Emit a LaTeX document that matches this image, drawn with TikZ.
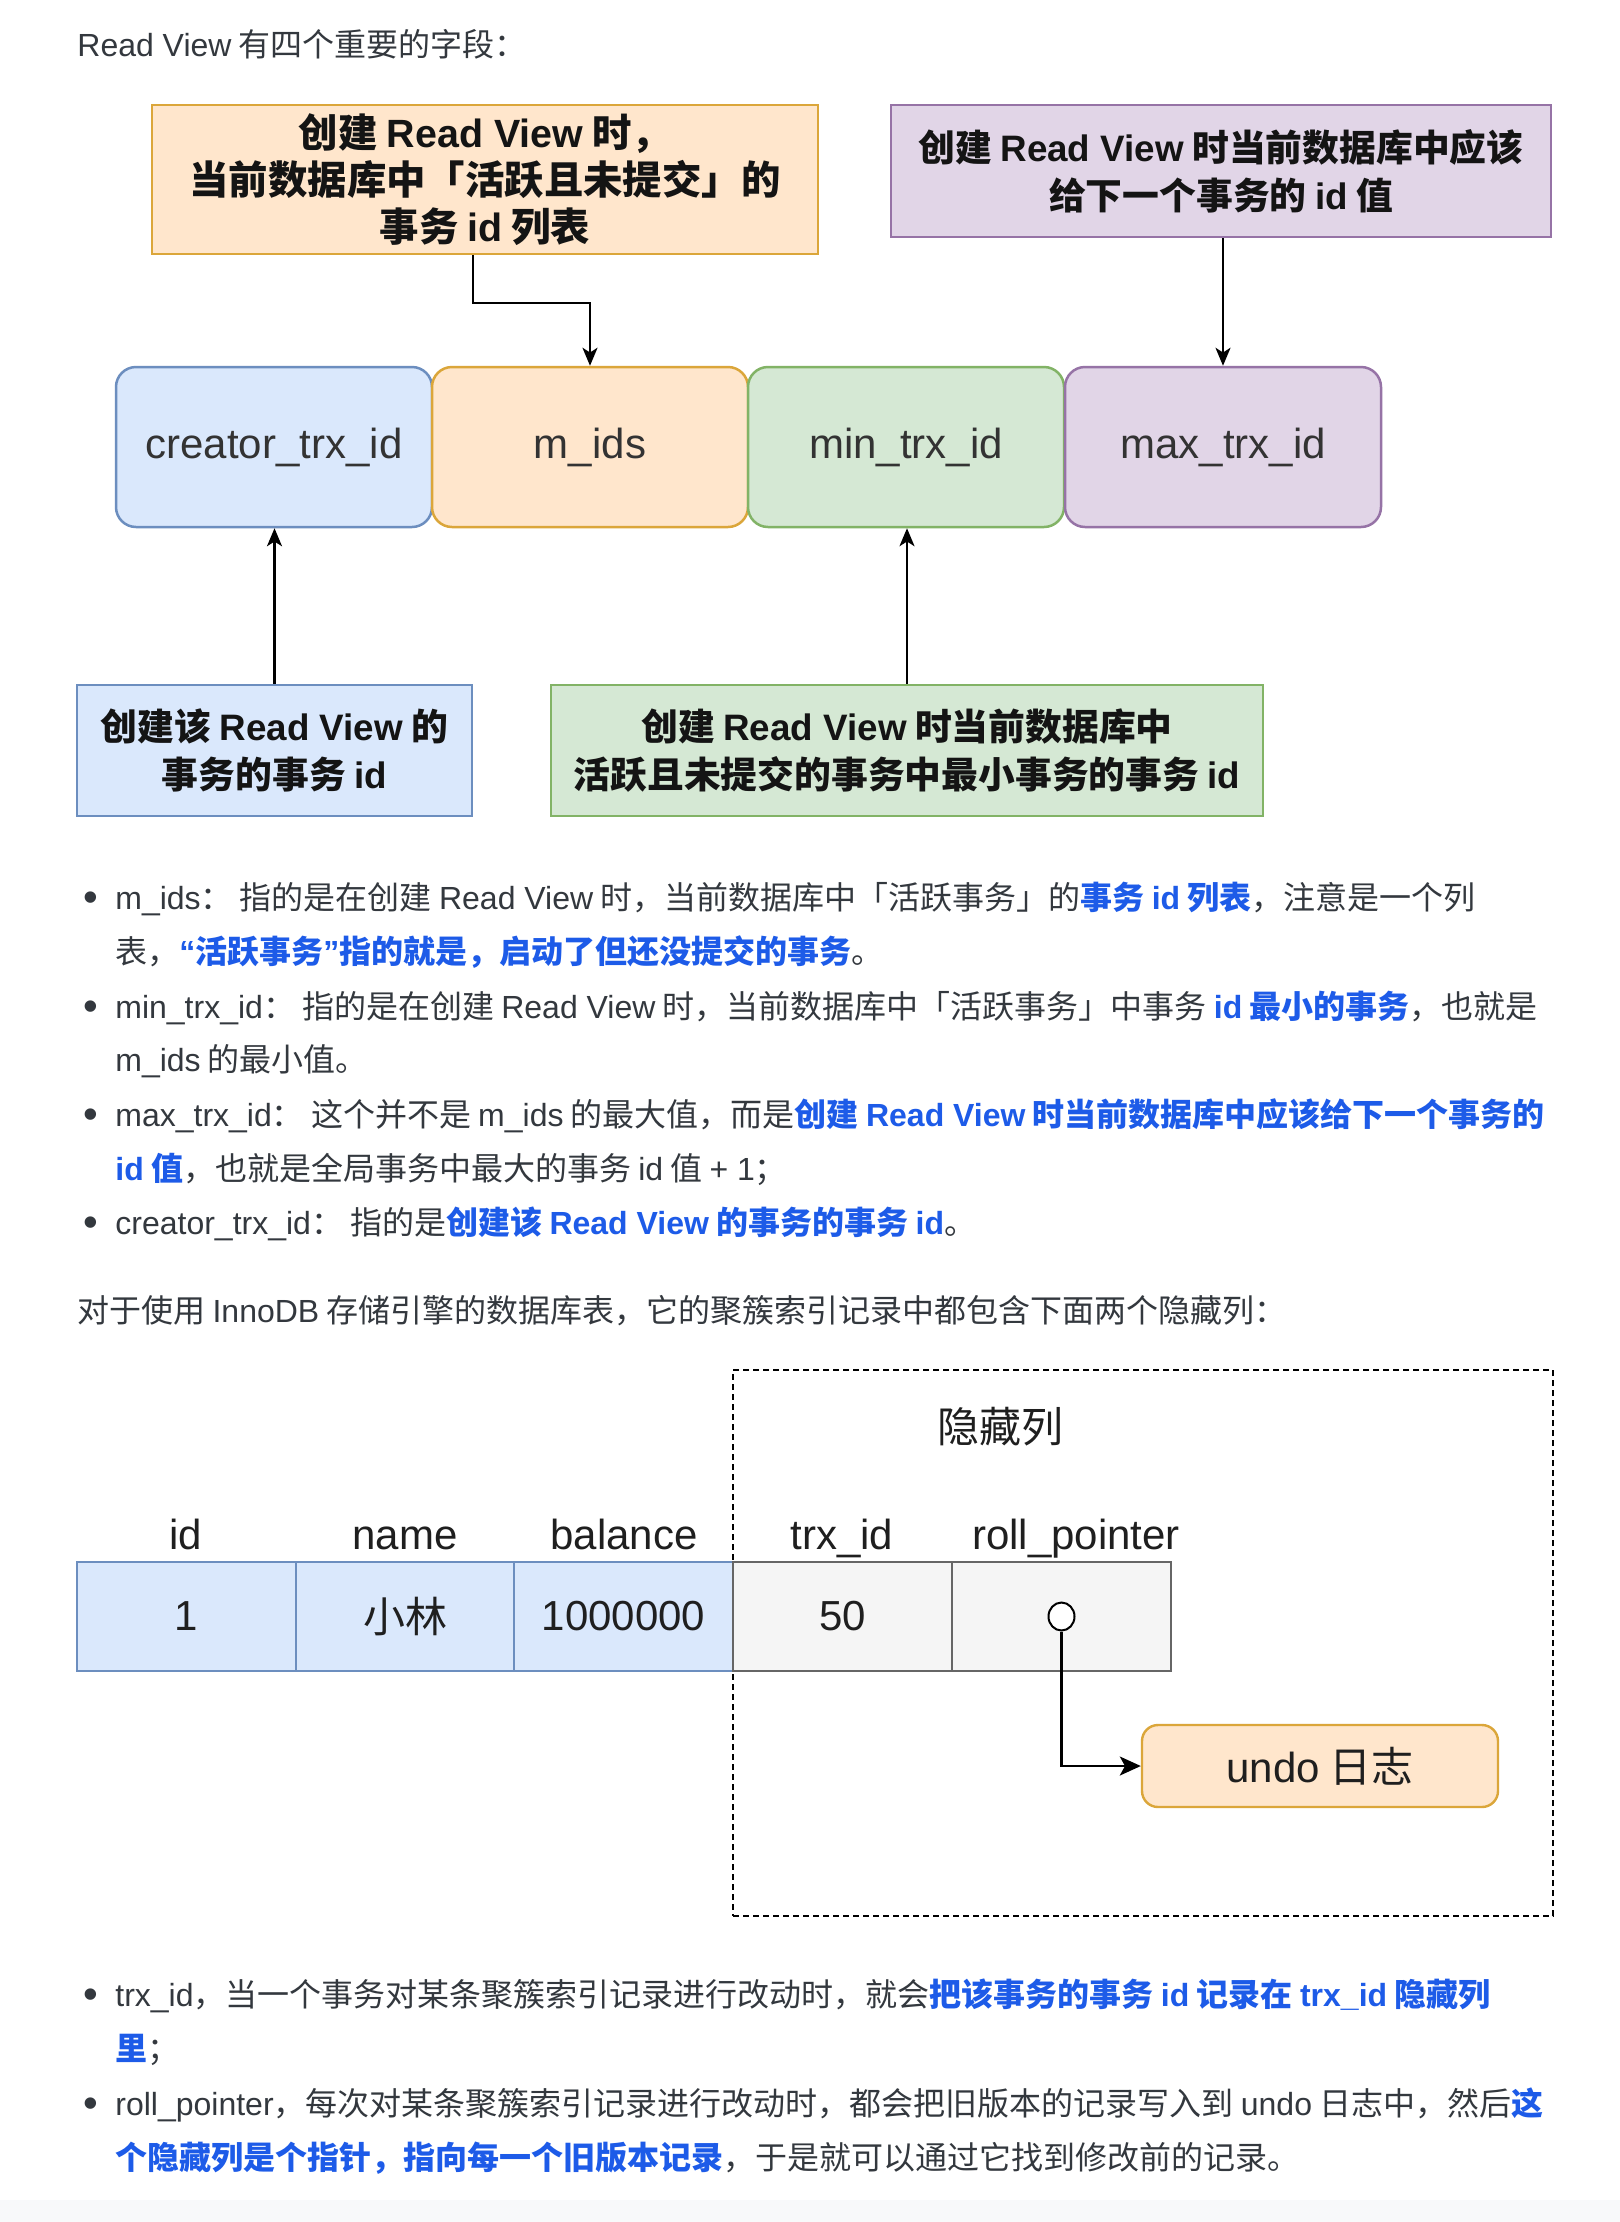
\documentclass[tikz,border=0pt]{standalone}
\usepackage{fontspec}
\setmainfont{Noto Sans CJK SC}
\newfontfamily\latfont{Liberation Sans}
\usetikzlibrary{arrows.meta,shapes.geometric}

\newcommand\lat[1]{{\latfont #1}}
\newcommand\blueemph[1]{{\color{hl}\bfseries #1}}

\definecolor{txt}{HTML}{33383E}
\definecolor{hl}{HTML}{1D5BE8}
\definecolor{pagefoot}{HTML}{F8F9FA}
\definecolor{bfill}{HTML}{DAE8FC}\definecolor{bline}{HTML}{6C8EBF}
\definecolor{ofill}{HTML}{FFE6CC}\definecolor{oline}{HTML}{DBA63A}
\definecolor{gfill}{HTML}{D5E8D4}\definecolor{gline}{HTML}{82B366}
\definecolor{pfill}{HTML}{E1D5E7}\definecolor{pline}{HTML}{9673A6}
\definecolor{hfill}{HTML}{F5F5F5}\definecolor{hline}{HTML}{666666}

\begin{document}
\begin{tikzpicture}[x=0.5pt,y=-0.5pt,
  body/.style={anchor=base west,inner sep=0pt,text=txt,font=\fontsize{16}{19}\selectfont},
  bulletmark/.style={anchor=base west,inner sep=0pt,text=txt,font=\latfont\fontsize{21}{21}\selectfont},
  field/.style={draw,line width=1.25pt,rounded corners=10pt,minimum width=158pt,minimum height=80pt,
    text=black!80,font=\latfont\fontsize{21}{25}\selectfont},
  note/.style={draw,line width=1.2pt,align=center,inner sep=0pt,text=black!92,
    font=\bfseries\fontsize{18.4}{24}\selectfont},
  link/.style={-{Stealth[length=9pt,width=7.5pt,inset=2.4pt]},line width=1.2pt},
  colhead/.style={anchor=base,inner sep=0pt,text=black!88,font=\latfont\fontsize{21}{25}\selectfont},
  cell/.style={draw,line width=1pt,minimum width=109.5pt,minimum height=54.5pt,inner sep=0pt,
    text=black!88,font=\latfont\fontsize{21}{25}\selectfont},
  keycell/.style={cell,fill=bfill,draw=bline},
  hidcell/.style={cell,fill=hfill,draw=hline},
]
\fill[white] (0,0) rectangle (1620,2222);
\fill[pagefoot] (0,2200) rectangle (1620,2222);
\useasboundingbox (0,0) rectangle (1620,2222);

% ---------- Read View fields ----------
\node[body] (intro) at (77,56) {\lat{Read View} 有四个重要的字段：};

\node[note,fill=ofill,draw=oline,minimum width=333pt,minimum height=74.5pt,
      font=\bfseries\fontsize{19.7}{23.5}\selectfont] (topo) at (485,179.5)
  {创建 \lat{Read View} 时，\\当前数据库中「活跃且未提交」的\\事务 \lat{id} 列表};
\node[note,fill=pfill,draw=pline,minimum width=330pt,minimum height=66pt] (topp) at (1221,171)
  {创建 \lat{Read View} 时当前数据库中应该\\给下一个事务的 \lat{id} 值};

\node[field,fill=bfill,draw=bline] (creator) at (274,447) {creator\_trx\_id};
\node[field,fill=ofill,draw=oline] (mids)    at (590,447) {m\_ids};
\node[field,fill=gfill,draw=gline] (minb)    at (906,447) {min\_trx\_id};
\node[field,fill=pfill,draw=pline] (maxb)    at (1223,447) {max\_trx\_id};

\node[note,fill=bfill,draw=bline,minimum width=197.5pt,minimum height=65.5pt] (botb) at (274.5,750.5)
  {创建该 \lat{Read View} 的\\事务的事务 \lat{id}};
\node[note,fill=gfill,draw=gline,minimum width=356pt,minimum height=65.5pt] (botg) at (907,750.5)
  {创建 \lat{Read View} 时当前数据库中\\活跃且未提交的事务中最小事务的事务 \lat{id}};

\draw[link] ([xshift=-6pt]topo.south) -- ++(0,48) -| (mids.north);
\draw[link] (topp.south -| maxb.north) -- (maxb.north);
\draw[link] (botb.north) -- (botb.north |- creator.south);
\draw[link] (botg.north) -- (botg.north |- minb.south);

% ---------- field notes ----------
\node[bulletmark] (b1) at (83,911) {•};
\node[body] (l1) at (115,909) {\lat{m\_ids}：\ 指的是在创建 \lat{Read View} 时，当前数据库中「活跃事务」的\blueemph{事务 \lat{id} 列表}，注意是一个列};
\node[body] (l2) at (115,963) {表，\blueemph{\lat{“}活跃事务\lat{”}指的就是，启动了但还没提交的事务}。};
\node[bulletmark] (b2) at (83,1020) {•};
\node[body] (l3) at (115,1018) {\lat{min\_trx\_id}：\ 指的是在创建 \lat{Read View} 时，当前数据库中「活跃事务」中事务 \blueemph{\lat{id} 最小的事务}，也就是};
\node[body] (l4) at (115,1071) {\lat{m\_ids} 的最小值。};
\node[bulletmark] (b3) at (83,1128) {•};
\node[body] (l5) at (115,1126) {\lat{max\_trx\_id}：\ 这个并不是 \lat{m\_ids} 的最大值，而是\blueemph{创建 \lat{Read View} 时当前数据库中应该给下一个事务的}};
\node[body] (l6) at (115,1180) {\blueemph{\lat{id} 值}，也就是全局事务中最大的事务 \lat{id} 值 \lat{+ 1}；};
\node[bulletmark] (b4) at (83,1236) {•};
\node[body] (l7) at (115,1234) {\lat{creator\_trx\_id}：\ 指的是\blueemph{创建该 \lat{Read View} 的事务的事务 \lat{id}}。};

\node[body] (para) at (77,1322) {对于使用 \lat{InnoDB} 存储引擎的数据库表，它的聚簇索引记录中都包含下面两个隐藏列：};

% ---------- clustered index record ----------
\node[draw,dashed,dash pattern=on 3pt off 2pt,line width=1pt,minimum width=410pt,minimum height=273pt,inner sep=0pt]
  (hidden) at (1143,1643) {};
\node[inner sep=0pt,text=black!88,font=\fontsize{21}{25}\selectfont] (hidlabel) at (1000,1427) {隐藏列};

\node[colhead] (hid)  at (186,1549) {id};
\node[colhead] (hname) at (405,1549) {name};
\node[colhead] (hbal) at (624,1549) {balance};
\node[colhead] (htrx) at (842,1549) {trx\_id};
\node[colhead] (hroll) at (1076,1549) {roll\_pointer};

\node[keycell] (cid)   at (186.5,1616.5) {1};
\node[keycell] (cname) at (405,1616.5) {{\rmfamily\fontsize{21}{25}\selectfont 小林}};
\node[keycell] (cbal)  at (623.5,1616.5) {1000000};
\node[hidcell] (ctrx)  at (842.5,1616.5) {50};
\node[hidcell] (croll) at (1061.5,1616.5) {};

\node[draw,line width=1pt,fill=white,ellipse,minimum width=13pt,minimum height=14pt,inner sep=0pt] (ptr) at (1061.5,1616.5) {};
\node[draw=oline,fill=ofill,line width=1.2pt,rounded corners=8pt,minimum width=178pt,minimum height=41pt,
      text=black!88,font=\fontsize{21}{25}\selectfont] (undo) at (1320,1766) {\lat{undo} 日志};
\draw[-{Stealth[length=10.5pt,width=9.5pt,inset=2.6pt]},line width=1.2pt] (ptr.south) |- (undo.west);

% ---------- hidden column notes ----------
\node[bulletmark] (b5) at (83,2008) {•};
\node[body] (l9) at (115,2006) {\lat{trx\_id}，当一个事务对某条聚簇索引记录进行改动时，就会\blueemph{把该事务的事务 \lat{id} 记录在 \lat{trx\_id} 隐藏列}};
\node[body] (l10) at (115,2060) {\blueemph{里}；};
\node[bulletmark] (b6) at (83,2117) {•};
\node[body] (l11) at (115,2115) {\lat{roll\_pointer}，每次对某条聚簇索引记录进行改动时，都会把旧版本的记录写入到 \lat{undo} 日志中，然后\blueemph{这}};
\node[body] (l12) at (115,2169) {\blueemph{个隐藏列是个指针，指向每一个旧版本记录}，于是就可以通过它找到修改前的记录。};
\end{tikzpicture}
\end{document}
